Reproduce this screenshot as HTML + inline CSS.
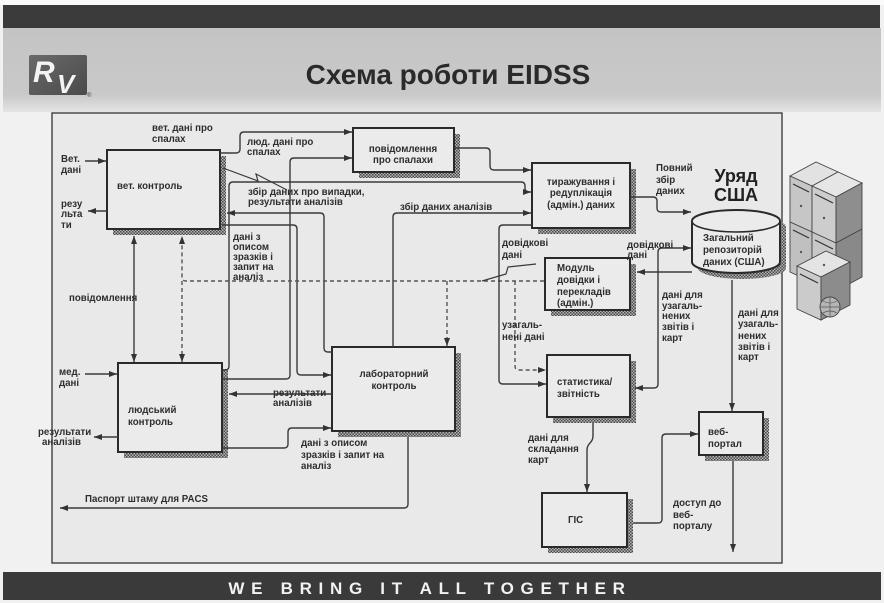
<!DOCTYPE html>
<html><head><meta charset="utf-8">
<style>
html,body{margin:0;padding:0;background:#f2f2f2;}
svg{display:block;}
text{font-family:"Liberation Sans","DejaVu Sans",sans-serif;}
.l{font-size:9.7px;font-weight:bold;fill:#2e2e2e;}
.b{font-size:9.7px;font-weight:bold;fill:#2e2e2e;}
.ln{fill:none;stroke:#3a3a3a;stroke-width:1.4;}
.ds{fill:none;stroke:#555;stroke-width:1.4;stroke-dasharray:4,3;}
.bx{fill:#ebebeb;stroke:#2a2a2a;stroke-width:2;}
</style></head>
<body>
<svg width="884" height="603" viewBox="0 0 884 603" xmlns="http://www.w3.org/2000/svg">
<defs>
<pattern id="h" width="3" height="3" patternUnits="userSpaceOnUse">
<rect width="3" height="3" fill="#b4b4b4"/>
<rect width="1.5" height="1.5" fill="#4a4a4a"/>
<rect x="1.5" y="1.5" width="1.5" height="1.5" fill="#4a4a4a"/>
</pattern>
<linearGradient id="hg" x1="0" y1="0" x2="0" y2="1">
<stop offset="0" stop-color="#c4c4c4"/>
<stop offset="0.8" stop-color="#c9c9c9"/>
<stop offset="1" stop-color="#e4e4e4"/>
</linearGradient>
<linearGradient id="lg" x1="0" y1="0" x2="1" y2="1">
<stop offset="0" stop-color="#6a6a6a"/>
<stop offset="1" stop-color="#4a4a4a"/>
</linearGradient>
<marker id="a" viewBox="0 0 8 6" refX="8" refY="3" markerWidth="8" markerHeight="6" orient="auto" markerUnits="userSpaceOnUse">
<path d="M0,0 L8,3 L0,6 z" fill="#333"/>
</marker>
</defs>

<rect x="0" y="0" width="884" height="603" fill="#f1f1f1"/>
<rect x="0" y="0" width="884" height="5" fill="#fafafa"/>
<rect x="3" y="28" width="878" height="84" fill="url(#hg)"/>
<rect x="3" y="5" width="877" height="23" fill="#3b3b3b"/>

<!-- logo -->
<rect x="29" y="55" width="58" height="40" rx="2" fill="url(#lg)"/>
<text x="33" y="82" font-size="30" font-weight="bold" font-style="italic" fill="#f4f4f4">R</text>
<text x="57" y="93" font-size="26" font-weight="bold" font-style="italic" fill="#f4f4f4">V</text>
<text x="87" y="97" font-size="6" fill="#444">®</text>

<text x="448" y="84" text-anchor="middle" font-size="28" font-weight="bold" fill="#2a2a2a">Схема роботи EIDSS</text>

<rect x="52" y="113" width="730" height="450" fill="#e9e9e9" stroke="#4a4a4a" stroke-width="1.5"/>

<rect x="3" y="572" width="878" height="28" fill="#3a3a3a"/>
<text x="430" y="594" text-anchor="middle" font-size="17" font-weight="bold" letter-spacing="6.7" fill="#f2f2f2">WE BRING IT ALL TOGETHER</text>

<!-- servers illustration -->
<g stroke="#444" stroke-width="0.9">
<polygon points="790,176 816,162 838,172 812,186" fill="#e2e2e2"/>
<polygon points="790,176 812,186 812,232 790,222" fill="#c6c6c6"/>
<polygon points="790,222 812,232 812,282 790,272" fill="#c0c0c0"/>
<polygon points="812,186 838,172 862,183 836,197" fill="#e6e6e6"/>
<polygon points="812,186 836,197 836,243 812,232" fill="#cdcdcd"/>
<polygon points="836,197 862,183 862,229 836,243" fill="#8e8e8e"/>
<polygon points="812,232 836,243 836,291 812,280" fill="#c8c8c8"/>
<polygon points="836,243 862,229 862,277 836,291" fill="#898989"/>
<polygon points="797,266 826,251 850,262 821,277" fill="#e4e4e4"/>
<polygon points="797,266 821,277 821,320 797,309" fill="#cbcbcb"/>
<polygon points="821,277 850,262 850,305 821,320" fill="#8c8c8c"/>
</g>
<g stroke="#333" stroke-width="1.2">
<line x1="793" y1="184" x2="809" y2="192"/><line x1="815" y1="194" x2="833" y2="203"/>
<line x1="793" y1="230" x2="809" y2="238"/><line x1="815" y1="240" x2="833" y2="249"/>
<line x1="800" y1="274" x2="818" y2="283"/>
</g>
<g fill="#555">
<circle cx="801" cy="206" r="1.2"/><circle cx="824" cy="218" r="1.2"/>
<circle cx="801" cy="252" r="1.2"/><circle cx="824" cy="265" r="1.2"/>
</g>
<circle cx="830" cy="307" r="10" fill="#b5b5b5" stroke="#444" stroke-width="0.9"/>
<path d="M820,307 H840 M830,297 V317 M823,301 Q830,305 837,301 M823,313 Q830,309 837,313" fill="none" stroke="#555" stroke-width="0.7"/>

<!-- shadows -->
<g fill="url(#h)">
<rect x="113" y="156" width="113" height="79"/>
<rect x="359" y="134" width="101" height="44"/>
<rect x="538" y="169" width="98" height="65"/>
<rect x="551" y="264" width="85" height="52"/>
<rect x="338" y="353" width="123" height="84"/>
<rect x="124" y="369" width="104" height="89"/>
<rect x="553" y="361" width="83" height="62"/>
<rect x="705" y="418" width="64" height="43"/>
<rect x="548" y="499" width="85" height="54"/>
<path d="M698,227 A44,11 0 0 1 786,227 V268 A44,11 0 0 1 698,268 Z"/>
</g>

<rect class="bx" x="107" y="150" width="113" height="79"/>
<rect class="bx" x="353" y="128" width="101" height="44"/>
<rect class="bx" x="532" y="163" width="98" height="65"/>
<rect class="bx" x="545" y="258" width="85" height="52"/>
<rect class="bx" x="332" y="347" width="123" height="84"/>
<rect class="bx" x="118" y="363" width="104" height="89"/>
<rect class="bx" x="547" y="355" width="83" height="62"/>
<rect class="bx" x="699" y="412" width="64" height="43"/>
<rect class="bx" x="542" y="493" width="85" height="54"/>
<path d="M692,221 A44,11 0 0 1 780,221 V262 A44,11 0 0 1 692,262 Z" fill="#ebebeb" stroke="#2a2a2a" stroke-width="2"/>
<path d="M692,221 A44,11 0 0 0 780,221" fill="none" stroke="#2a2a2a" stroke-width="1.6"/>

<g class="ln" marker-end="url(#a)">
<path class="ln" d="M220,153 H236 Q240,153 240,149 V136 Q240,132 244,132 H352"/>
<path class="ln" d="M222,379 H286 Q290,379 290,375 V162 Q290,158 294,158 H352"/>
<path class="ln" d="M454,148 H486 Q490,148 490,152 V166 Q490,170 494,170 H531"/>
<path class="ln" d="M222,370 H225 Q229,370 229,366 V186 Q229,182 233,182 H521 Q525,182 525,186 V188 Q525,192 529,192 H531"/>
<path class="ln" d="M222,225 H293 Q297,225 297,229 V371 Q297,375 301,375 H331"/>
<path class="ln" d="M332,352 H328 Q324,352 324,348 V217 Q324,213 320,213 H227"/>
<path class="ln" d="M393,347 V217 Q393,213 397,213 H531"/>
<path class="ln" d="M332,394 H229"/>
<path class="ln" d="M222,448 H284 Q288,448 288,444 V432 Q288,428 292,428 H331"/>
<path class="ln" d="M408,437 V504 Q408,508 404,508 H60"/>
<path class="ln" d="M85,161 H106"/>
<path class="ln" d="M107,211 H88"/>
<path class="ln" d="M85,374 H117"/>
<path class="ln" d="M118,437 H94"/>
<path class="ln" d="M134,300 V236"/>
<path class="ln" d="M134,300 V362"/>
<path class="ds" d="M544,281 H186 Q182,281 182,277 V236"/>
<path class="ds" d="M182,281 V362"/>
<path class="ds" d="M447,281 V346"/>
<path class="ds" d="M515,281 V366 Q515,370 519,370 H546"/>
<path class="ln" d="M532,225 H503 Q499,225 499,229 V380 Q499,384 503,384 H546"/>
<path class="ln" d="M630,197 H653 Q657,197 657,201 V208 Q657,212 661,212 H691"/>
<path class="ln" d="M692,272 H637"/>
<path class="ln" d="M658,300 V252 Q658,248 662,248 H691"/>
<path class="ln" d="M658,300 V384 Q658,388 654,388 H635"/>
<path class="ln" d="M593,423 V436 Q593,440 590,443 Q587,446 587,450 V492"/>
<path class="ln" d="M732,280 V411"/>
<path class="ln" d="M633,523 H658 Q662,523 662,519 V438 Q662,434 666,434 H698"/>
<path class="ln" d="M733,461 V552"/>
</g>
<polyline points="223,168 258,181 256,174 287,190" fill="none" stroke="#3a3a3a" stroke-width="1.2"/>
<polyline points="482,281 506,274 508,267 536,264" fill="none" stroke="#3a3a3a" stroke-width="1.2"/>

<text class="b" x="117" y="189">вет. контроль</text>
<text class="b" x="403" y="152" text-anchor="middle">повідомлення</text>
<text class="b" x="403" y="163" text-anchor="middle">про спалахи</text>
<text class="b" x="581" y="185" text-anchor="middle">тиражування і</text>
<text class="b" x="581" y="196" text-anchor="middle">редуплікація</text>
<text class="b" x="581" y="208" text-anchor="middle">(адмін.) даних</text>
<text class="b" x="703" y="241">Загальний</text>
<text class="b" x="703" y="253">репозиторій</text>
<text class="b" x="703" y="265">даних (США)</text>
<text class="b" x="557" y="271">Модуль</text>
<text class="b" x="557" y="283">довідки і</text>
<text class="b" x="557" y="295">перекладів</text>
<text class="b" x="557" y="306">(адмін.)</text>
<text class="b" x="394" y="377" text-anchor="middle">лабораторний</text>
<text class="b" x="394" y="389" text-anchor="middle">контроль</text>
<text class="b" x="128" y="413">людський</text>
<text class="b" x="128" y="425">контроль</text>
<text class="b" x="557" y="385">статистика/</text>
<text class="b" x="557" y="397">звітність</text>
<text class="b" x="708" y="435">веб-</text>
<text class="b" x="708" y="447">портал</text>
<text class="b" x="568" y="523">ГІС</text>

<text x="736" y="182" text-anchor="middle" font-size="18" font-weight="bold" fill="#222">Уряд</text>
<text x="736" y="201" text-anchor="middle" font-size="18" font-weight="bold" fill="#222">США</text>

<text class="l" x="152" y="131">вет. дані про</text>
<text class="l" x="152" y="142">спалах</text>
<text class="l" x="247" y="145">люд. дані про</text>
<text class="l" x="247" y="155">спалах</text>
<text class="l" x="248" y="195">збір даних про випадки,</text>
<text class="l" x="248" y="205">результати аналізів</text>
<text class="l" x="400" y="210">збір даних аналізів</text>
<text class="l" x="61" y="162">Вет.</text>
<text class="l" x="61" y="173">дані</text>
<text class="l" x="61" y="207">резу</text>
<text class="l" x="61" y="217">льта</text>
<text class="l" x="61" y="228">ти</text>
<text class="l" x="233" y="240">дані з</text>
<text class="l" x="233" y="250">описом</text>
<text class="l" x="233" y="260">зразків і</text>
<text class="l" x="233" y="270">запит на</text>
<text class="l" x="233" y="280">аналіз</text>
<text class="l" x="69" y="301">повідомлення</text>
<text class="l" x="59" y="375">мед.</text>
<text class="l" x="59" y="386">дані</text>
<text class="l" x="38" y="435">результати</text>
<text class="l" x="42" y="445">аналізів</text>
<text class="l" x="273" y="396">результати</text>
<text class="l" x="273" y="406">аналізів</text>
<text class="l" x="301" y="446">дані з описом</text>
<text class="l" x="301" y="458">зразків і запит на</text>
<text class="l" x="301" y="469">аналіз</text>
<text class="l" x="85" y="502">Паспорт штаму для PACS</text>
<text class="l" x="656" y="171">Повний</text>
<text class="l" x="656" y="183">збір</text>
<text class="l" x="656" y="194">даних</text>
<text class="l" x="502" y="246">довідкові</text>
<text class="l" x="502" y="258">дані</text>
<text class="l" x="627" y="248">довідкові</text>
<text class="l" x="627" y="258">дані</text>
<text class="l" x="502" y="328">узагаль-</text>
<text class="l" x="502" y="340">нені дані</text>
<text class="l" x="662" y="298">дані для</text>
<text class="l" x="662" y="309">узагаль-</text>
<text class="l" x="662" y="319">нених</text>
<text class="l" x="662" y="330">звітів і</text>
<text class="l" x="662" y="341">карт</text>
<text class="l" x="738" y="316">дані для</text>
<text class="l" x="738" y="327">узагаль-</text>
<text class="l" x="738" y="339">нених</text>
<text class="l" x="738" y="350">звітів і</text>
<text class="l" x="738" y="360">карт</text>
<text class="l" x="528" y="441">дані для</text>
<text class="l" x="528" y="452">складання</text>
<text class="l" x="528" y="463">карт</text>
<text class="l" x="673" y="506">доступ до</text>
<text class="l" x="673" y="518">веб-</text>
<text class="l" x="673" y="529">порталу</text>
</svg>
</body></html>
